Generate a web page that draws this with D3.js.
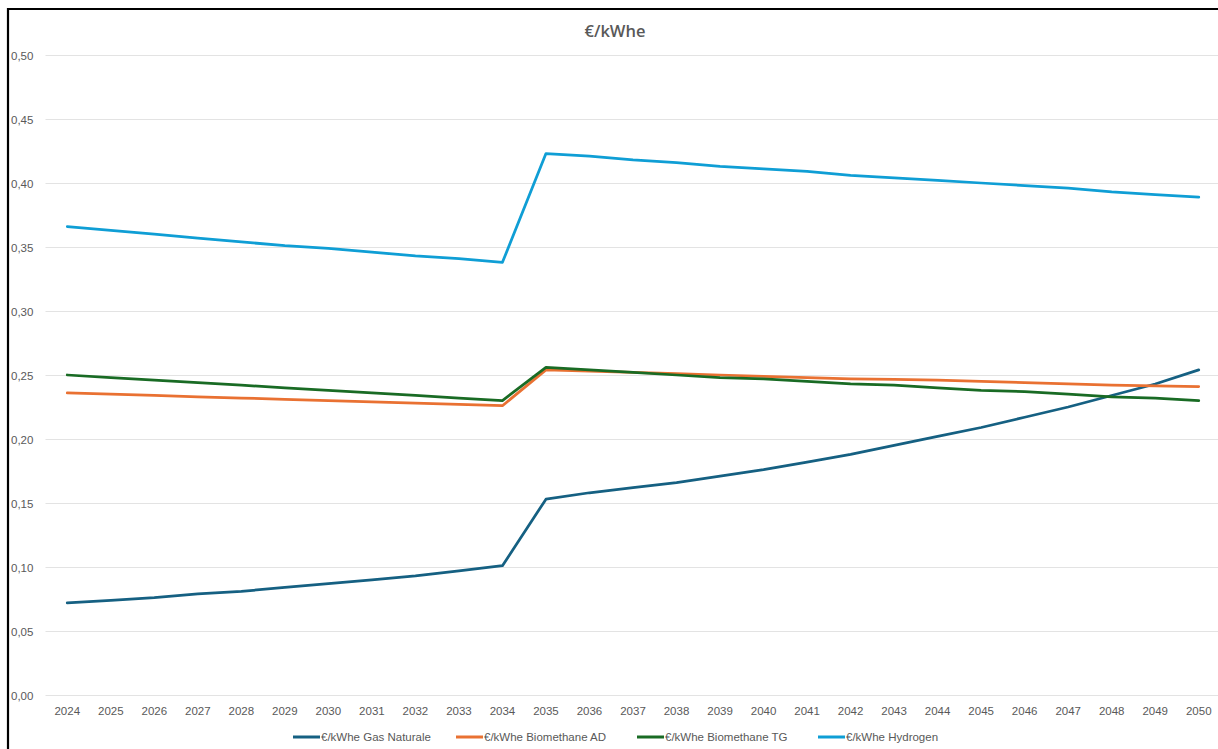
<!DOCTYPE html>
<html>
<head>
<meta charset="utf-8">
<script src="https://cdn.jsdelivr.net/npm/d3@7/dist/d3.min.js"></script>
<style>
  html, body { margin: 0; padding: 0; background: #ffffff; }
  svg { display: block; }
  text { font-family: "Liberation Sans", Arial, sans-serif; fill: #595959; }
</style>
</head>
<body>
<svg id="chart" width="1218" height="749"></svg>
<script>
// Years on the category axis
const years = d3.range(2024, 2051);

// Cost per kWh electric, by fuel
const gasNaturale = [0.072, 0.074, 0.076, 0.079, 0.081, 0.084, 0.087, 0.090, 0.093, 0.097, 0.101,
  0.153, 0.158, 0.162, 0.166, 0.171, 0.176, 0.182, 0.188, 0.195, 0.202, 0.209, 0.217, 0.225, 0.234, 0.243, 0.254];
const biomethaneAD = [0.236, 0.235, 0.234, 0.233, 0.232, 0.231, 0.230, 0.229, 0.228, 0.227, 0.226,
  0.254, 0.253, 0.252, 0.251, 0.250, 0.249, 0.248, 0.247, 0.2465, 0.246, 0.245, 0.244, 0.243, 0.242, 0.2415, 0.241];
const biomethaneTG = [0.250, 0.248, 0.246, 0.244, 0.242, 0.240, 0.238, 0.236, 0.234, 0.232, 0.230,
  0.256, 0.254, 0.252, 0.250, 0.248, 0.247, 0.245, 0.243, 0.242, 0.240, 0.238, 0.237, 0.235, 0.233, 0.232, 0.230];
const hydrogen = [0.366, 0.363, 0.360, 0.357, 0.354, 0.351, 0.349, 0.346, 0.343, 0.341, 0.338,
  0.423, 0.421, 0.418, 0.416, 0.413, 0.411, 0.409, 0.406, 0.404, 0.402, 0.400, 0.398, 0.396, 0.393, 0.391, 0.389];

const seriesNames = ["€/kWhe Gas Naturale", "€/kWhe Biomethane AD", "€/kWhe Biomethane TG", "€/kWhe Hydrogen"];
const seriesColors = ["#156082", "#E97132", "#196B24", "#0F9ED5"];
const yTicks = [0, 0.05, 0.10, 0.15, 0.20, 0.25, 0.30, 0.35, 0.40, 0.45, 0.50];
const chartTitle = "€/kWhe";

const series = [gasNaturale, biomethaneAD, biomethaneTG, hydrogen].map((values, i) => ({
  name: seriesNames[i],
  color: seriesColors[i],
  values: values.map((v, j) => ({ year: years[j], value: v }))
}));

const svg = d3.select("#chart");
const plot = { left: 45.5, right: 1220.5, top: 55, bottom: 695 };

const x = d3.scaleBand().domain(years).range([plot.left, plot.right]).padding(0);
const y = d3.scaleLinear().domain([0, 0.5]).range([plot.bottom, plot.top]);
const fmt = v => d3.format(".2f")(v).replace(".", ",");

// Horizontal gridlines
svg.append("g")
  .selectAll("line")
  .data(yTicks)
  .join("line")
  .attr("x1", plot.left)
  .attr("x2", plot.right)
  .attr("y1", d => Math.round(y(d)) + 0.5)
  .attr("y2", d => Math.round(y(d)) + 0.5)
  .attr("stroke", "#e3e3e3")
  .attr("stroke-width", 1);

// Y axis labels (left-aligned, as in the spreadsheet layout)
const yAxis = d3.axisLeft(y).tickValues(yTicks).tickFormat(fmt).tickSize(0);
svg.append("g")
  .attr("transform", "translate(11,0)")
  .call(yAxis)
  .call(g => g.select(".domain").remove())
  .call(g => g.selectAll("text")
    .attr("text-anchor", "start")
    .attr("x", 0)
    .attr("dy", "0.35em")
    .style("font-size", "11.5px")
    .style("fill", "#595959"));

// X axis labels
const xAxis = d3.axisBottom(x).tickSize(0);
svg.append("g")
  .attr("transform", `translate(0,${plot.bottom})`)
  .call(xAxis)
  .call(g => g.select(".domain").remove())
  .call(g => g.selectAll("text")
    .attr("y", 16)
    .attr("dy", "0.35em")
    .style("font-size", "11.5px")
    .style("fill", "#595959"));

// Series lines
const line = d3.line()
  .x(d => x(d.year) + x.bandwidth() / 2)
  .y(d => y(d.value));

svg.append("g")
  .selectAll("path")
  .data(series)
  .join("path")
  .attr("d", d => line(d.values))
  .attr("fill", "none")
  .attr("stroke", d => d.color)
  .attr("stroke-width", 2.75)
  .attr("stroke-linejoin", "round")
  .attr("stroke-linecap", "round");

// Title
svg.append("text")
  .attr("x", 615)
  .attr("y", 31)
  .attr("dy", "0.35em")
  .attr("text-anchor", "middle")
  .style("font-family", "'Open Sans', 'Liberation Sans', sans-serif")
  .style("font-size", "16.5px")
  .style("font-weight", "600")
  .style("fill", "#595959")
  .text(chartTitle);

// Legend
const legendX = [293, 456, 637, 818];
const legend = svg.append("g")
  .selectAll("g")
  .data(series)
  .join("g")
  .attr("transform", (d, i) => `translate(${legendX[i]},737)`);
legend.append("line")
  .attr("x1", 0).attr("x2", 27)
  .attr("y1", 0).attr("y2", 0)
  .attr("stroke", d => d.color)
  .attr("stroke-width", 3);
legend.append("text")
  .attr("x", 28)
  .attr("y", 0)
  .attr("dy", "0.35em")
  .style("font-size", "11.5px")
  .style("fill", "#595959")
  .text(d => d.name);

// Frame edges
svg.append("line")
  .attr("x1", 8).attr("x2", 1218)
  .attr("y1", 9).attr("y2", 9)
  .attr("stroke", "#000").attr("stroke-width", 2.2);
svg.append("line")
  .attr("x1", 8).attr("x2", 8)
  .attr("y1", 8).attr("y2", 749)
  .attr("stroke", "#000").attr("stroke-width", 2.2);
</script>
</body>
</html>
